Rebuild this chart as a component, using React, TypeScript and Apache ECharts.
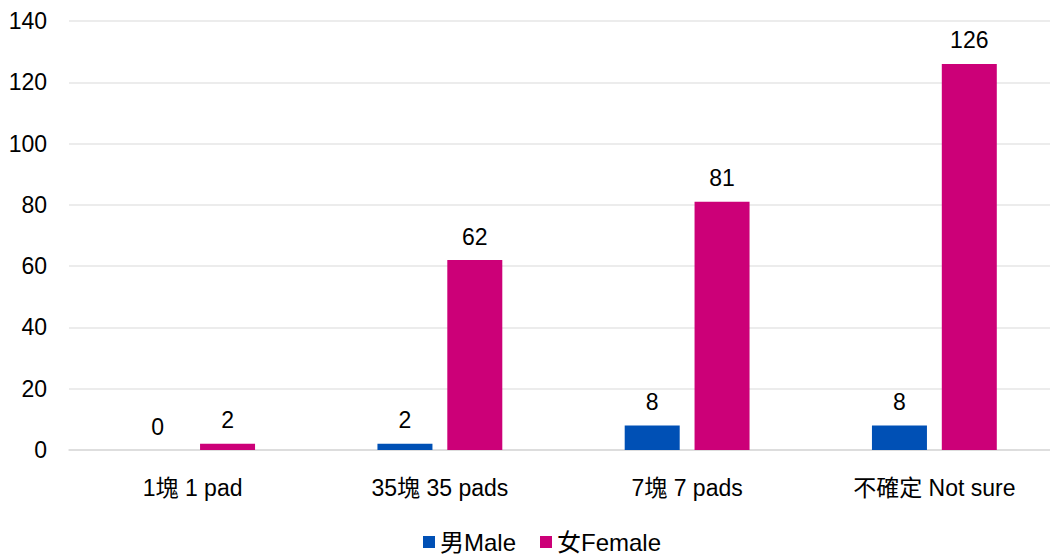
import React, { useEffect, useRef } from "react";
import * as echarts from "echarts";

const categories = ["1塊 1 pad", "35塊 35 pads", "7塊 7 pads", "不確定 Not sure"];
const maleValues = [0, 2, 8, 8];
const femaleValues = [2, 62, 81, 126];
const seriesNames = ["男Male", "女Female"];

export default function App() {
  const ref = useRef<HTMLDivElement>(null);
  useEffect(() => {
    if (!ref.current) return;
    const chart = echarts.init(ref.current, null, { renderer: "svg" });
    const font = "Arial, 'Liberation Sans', 'Noto Sans CJK TC', sans-serif";
    const labelCfg = {
      show: true,
      position: "top",
      distance: 12,
      color: "#000",
      fontSize: 23,
      fontFamily: font,
    };
    chart.setOption({
      animation: false,
      textStyle: { fontFamily: font },
      grid: { left: 69, width: 989, top: 21, bottom: 104, containLabel: false },
      legend: {
        bottom: 0,
        left: 423,
        padding: 0,
        itemWidth: 12,
        itemHeight: 12,
        itemGap: 24,
        icon: "rect",
        textStyle: { fontSize: 24, color: "#000", fontFamily: font },
        data: seriesNames,
      },
      xAxis: {
        type: "category",
        data: categories,
        axisLine: { show: true, lineStyle: { color: "#d9d9d9", width: 1.5 } },
        axisTick: { show: false },
        axisLabel: { fontSize: 23, color: "#000", margin: 26, fontFamily: font },
      },
      yAxis: {
        type: "value",
        min: 0,
        max: 140,
        interval: 20,
        axisLine: { show: false },
        axisTick: { show: false },
        splitLine: { lineStyle: { color: "#e6e6e6", width: 1.5 } },
        axisLabel: { fontSize: 23, color: "#000", margin: 22, fontFamily: font },
      },
      series: [
        {
          name: seriesNames[0],
          type: "bar",
          data: maleValues,
          barWidth: 55,
          barGap: "27%",
          itemStyle: { color: "#0050B5" },
          label: labelCfg,
        },
        {
          name: seriesNames[1],
          type: "bar",
          data: femaleValues,
          barWidth: 55,
          itemStyle: { color: "#CC0078" },
          label: labelCfg,
        },
      ],
    });
    return () => chart.dispose();
  }, []);
  return (
    <div
      ref={ref}
      style={{ position: "fixed", left: 0, top: 0, width: 1060, height: 554, background: "#fff" }}
    />
  );
}
